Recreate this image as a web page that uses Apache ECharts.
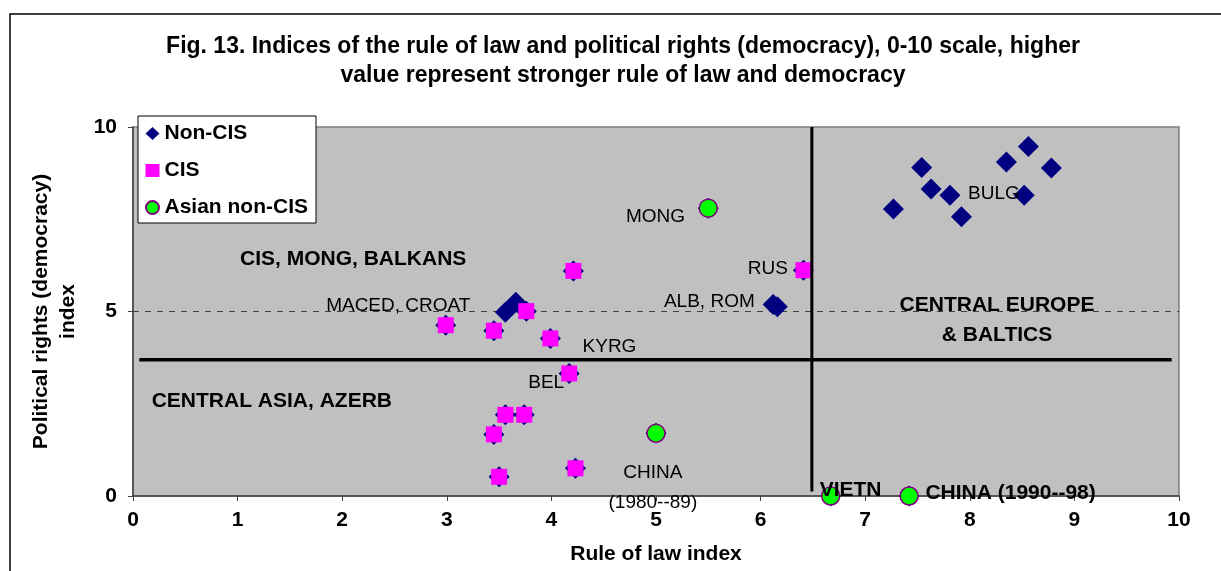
<!DOCTYPE html>
<html>
<head>
<meta charset="utf-8">
<script src="https://cdn.jsdelivr.net/npm/echarts@6/dist/echarts.min.js"></script>
<style>
    html, body { margin: 0; padding: 0; background: #fff; }
    #chart { width: 1221px; height: 571px; }
</style>
</head>
<body>
<div id="chart"></div>
<script>
var FONT = '"Liberation Sans", Arial, sans-serif';

// points (rule of law, political rights)
var nonCisX = [7.27, 7.54, 7.63, 7.81, 7.92, 8.35, 8.56, 8.78, 8.52, 6.12, 6.16, 3.56, 3.66];
var nonCisY = [7.78, 8.90, 8.32, 8.15, 7.57, 9.05, 9.47, 8.89, 8.15, 5.19, 5.13, 4.98, 5.25];
var cisX = [2.99, 3.45, 3.76, 3.99, 4.21, 6.41, 4.17, 3.56, 3.74, 3.45, 3.50, 4.23];
var cisY = [4.63, 4.48, 5.01, 4.27, 6.10, 6.12, 3.32, 2.20, 2.20, 1.67, 0.52, 0.75];
var asianX = [5.50, 5.00, 6.67, 7.42];
var asianY = [7.80, 1.70, 0.00, 0.00];

// quadrant dividers
var vLineX = [6.49, 6.49];
var vLineY = [0.12, 10];
var hLineX = [0.06, 9.93];
var hLineY = [3.69, 3.69];

// text notes inside the plot
var noteText = ['CIS, MONG, BALKANS', 'MACED, CROAT', 'CENTRAL ASIA, AZERB', 'KYRG', 'BEL', 'MONG', 'RUS',
    'ALB, ROM', 'BULG', 'CHINA\n(1980--89)', 'CENTRAL EUROPE\n& BALTICS', 'VIETN', 'CHINA (1990--98)'];
var noteX = [2.105, 2.536, 1.327, 4.555, 3.95, 4.995, 6.07, 5.51, 8.23, 4.97, 8.26, 6.86, 8.39];
var noteY = [6.41, 5.15, 2.556, 4.04, 3.06, 7.57, 6.15, 5.26, 8.18, 0.22, 4.77, 0.16, 0.08];
var noteBold = [1, 0, 1, 0, 0, 0, 0, 0, 0, 0, 1, 1, 1];

var xTicks = [0, 1, 2, 3, 4, 5, 6, 7, 8, 9, 10];
var yTicks = [0, 5, 10];

function pairs(xs, ys) {
    var out = [];
    for (var i = 0; i < xs.length; i++) {
        out.push([xs[i], ys[i]]);
    }
    return out;
}

var cisPts = pairs(cisX, cisY);
var asianPts = pairs(asianX, asianY);
// every country also carries a diamond underneath (as in the original sheet)
var diamondPts = pairs(nonCisX, nonCisY).concat(cisPts, asianPts);

var notes = [];
for (var i = 0; i < noteText.length; i++) {
    notes.push({
        value: [noteX[i], noteY[i]],
        label: {
            formatter: noteText[i],
            color: '#000',
            fontWeight: noteBold[i] ? 'bold' : 'normal',
            fontSize: noteBold[i] ? 21 : 19,
            lineHeight: 30
        }
    });
}

var chart = echarts.init(document.getElementById('chart'));
var option = {
    animation: false,
    backgroundColor: '#fff',
    textStyle: { fontFamily: FONT },
    graphic: [
        {
            type: 'rect',
            shape: { x: 10, y: 14, width: 1240, height: 600 },
            style: { fill: 'none', stroke: '#000', lineWidth: 1.5 },
            z: 100
        },
        {
            type: 'text',
            x: 623,
            y: 32,
            style: {
                text: 'Fig. 13. Indices of the rule of law and political rights (democracy), 0-10 scale, higher\nvalue represent stronger rule of law and democracy',
                align: 'center',
                verticalAlign: 'top',
                fontFamily: FONT,
                fontWeight: 'bold',
                fontSize: 23,
                lineHeight: 29,
                fill: '#000'
            }
        }
    ],
    legend: {
        orient: 'vertical',
        left: 138,
        top: 116,
        padding: [7, 8, 5, 7],
        itemGap: 16,
        itemWidth: 14,
        itemHeight: 13,
        backgroundColor: '#fff',
        borderColor: '#000',
        borderWidth: 1,
        textStyle: { fontFamily: FONT, fontSize: 21, fontWeight: 'bold', color: '#000' },
        data: [
            { name: 'Non-CIS', icon: 'diamond' },
            { name: 'CIS', icon: 'rect' },
            { name: 'Asian non-CIS', icon: 'circle' }
        ]
    },
    grid: {
        left: 133, right: 42, top: 127, bottom: 75,
        show: true,
        backgroundColor: '#C0C0C0',
        borderColor: '#808080',
        borderWidth: 1.5
    },
    xAxis: {
        type: 'value',
        min: 0, max: 10, interval: 1,
        name: 'Rule of law index',
        nameLocation: 'middle',
        nameGap: 48,
        nameTextStyle: { fontFamily: FONT, fontSize: 21, fontWeight: 'bold', color: '#000' },
        axisLine: { show: true, lineStyle: { color: '#404040', width: 1.5 } },
        axisTick: { show: true, length: 5, lineStyle: { color: '#404040' } },
        axisLabel: {
            margin: 14, fontFamily: FONT, fontSize: 21, fontWeight: 'bold', color: '#000',
            formatter: function (v) { return xTicks.indexOf(v) >= 0 ? String(v) : ''; }
        },
        splitLine: { show: false }
    },
    yAxis: {
        type: 'value',
        min: 0, max: 10, interval: 5,
        name: 'Political rights (democracy)\nindex',
        nameLocation: 'middle',
        nameRotate: 90,
        nameGap: 51,
        nameTextStyle: { fontFamily: FONT, fontSize: 21, fontWeight: 'bold', color: '#000', lineHeight: 27 },
        axisLine: { show: true, lineStyle: { color: '#404040', width: 1.5 } },
        axisTick: { show: true, length: 5, lineStyle: { color: '#404040' } },
        axisLabel: {
            margin: 16, fontFamily: FONT, fontSize: 21, fontWeight: 'bold', color: '#000',
            formatter: function (v) { return yTicks.indexOf(v) >= 0 ? String(v) : ''; }
        },
        splitLine: {
            show: true,
            lineStyle: { color: ['transparent', '#404040', 'transparent'], type: [6, 6], width: 1 }
        }
    },
    series: [
        {
            type: 'line', silent: true, symbol: 'none',
            data: pairs(vLineX, vLineY),
            lineStyle: { color: '#000', width: 3 }
        },
        {
            type: 'line', silent: true, symbol: 'none',
            data: pairs(hLineX, hLineY),
            lineStyle: { color: '#000', width: 3.5 }
        },
        {
            name: 'Non-CIS', type: 'scatter', clip: false,
            symbol: 'diamond', symbolSize: 21,
            itemStyle: { color: '#000080', opacity: 1 },
            data: diamondPts
        },
        {
            name: 'CIS', type: 'scatter', clip: false,
            symbol: 'rect', symbolSize: 16,
            itemStyle: { color: '#FF00FF', opacity: 1 },
            data: cisPts
        },
        {
            name: 'Asian non-CIS', type: 'scatter', clip: false,
            symbol: 'circle', symbolSize: 18,
            itemStyle: { color: '#00FF00', borderColor: '#800080', borderWidth: 1.5, opacity: 1 },
            data: asianPts
        },
        {
            type: 'scatter', silent: true, clip: false,
            symbolSize: 0,
            itemStyle: { color: '#000', opacity: 1 },
            label: {
                show: true, position: 'inside', color: '#000', fontFamily: FONT,
                align: 'center', textBorderWidth: 0
            },
            data: notes,
            z: 10
        }
    ]
};
chart.setOption(option);
</script>
</body>
</html>
